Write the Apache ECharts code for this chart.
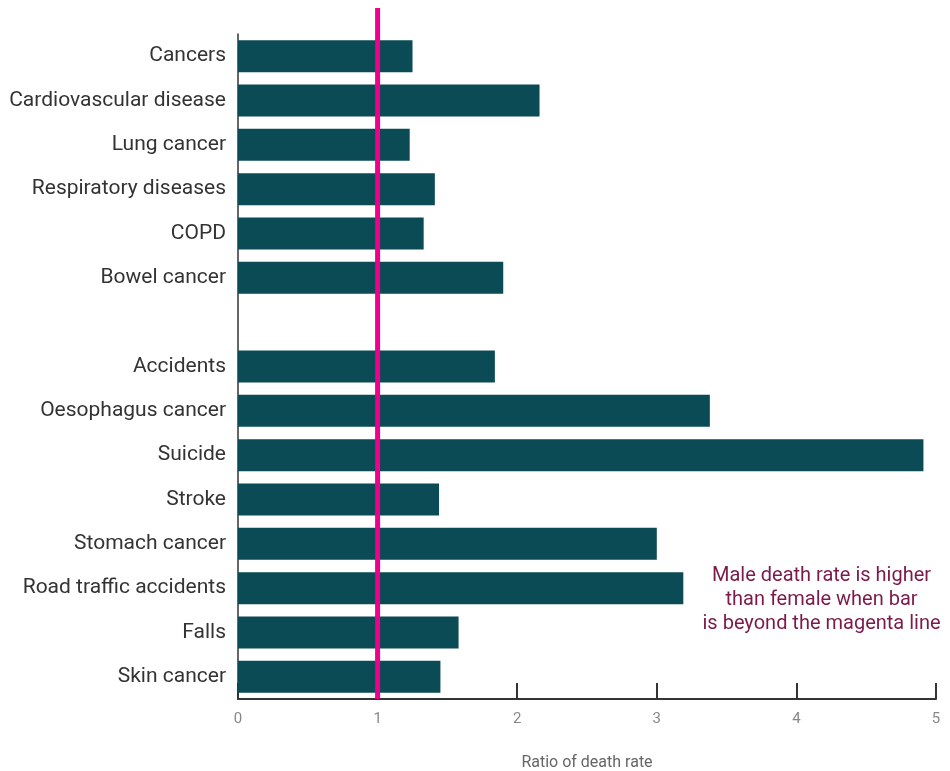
<!DOCTYPE html>
<html><head><meta charset="utf-8">
<script src="https://cdn.jsdelivr.net/npm/echarts@6/dist/echarts.min.js"></script>
<style>html,body{margin:0;padding:0;background:#fff;overflow:hidden}#c{width:950px;height:771px}</style>
</head><body><div id="c"></div>
<script>
const categories = ["Cancers","Cardiovascular disease","Lung cancer","Respiratory diseases","COPD","Bowel cancer","","Accidents","Oesophagus cancer","Suicide","Stroke","Stomach cancer","Road traffic accidents","Falls","Skin cancer"];
const ratios = [1.25,2.16,1.23,1.41,1.33,1.90,null,1.84,3.38,4.91,1.44,3.00,3.19,1.58,1.45];
const xTicks = [0,1,2,3,4,5];
const referenceRatio = 1;
const noteLines = ["Male death rate is higher","than female when bar","is beyond the magenta line"];

const font = "Roboto";
const chart = echarts.init(document.getElementById('c'));
chart.setOption({
  animation:false,
  grid:{left:238,right:14,top:34,bottom:72,containLabel:false,outerBoundsMode:'none'},
  xAxis:{type:'value',min:xTicks[0],max:xTicks[xTicks.length-1],interval:1,
    name:'Ratio of death rate',nameLocation:'middle',nameGap:56,
    nameTextStyle:{color:'#666',fontSize:16,fontFamily:font},
    axisLine:{show:true,lineStyle:{color:'#333',width:2}},
    axisTick:{show:true,inside:true,length:16,lineStyle:{color:'#333',width:2}},
    axisLabel:{color:'#888',fontSize:15,fontFamily:font,margin:13},
    splitLine:{show:false}},
  yAxis:{type:'category',data:categories,inverse:true,
    axisLine:{show:true,lineStyle:{color:'#333',width:1.5}},
    axisTick:{show:false},
    axisLabel:{color:'#333',fontSize:21,fontFamily:font,margin:12}},
  series:[{type:'bar',data:ratios,barWidth:32,itemStyle:{color:'#0A4B55'}}]
});
const x1 = chart.convertToPixel({xAxisIndex:0}, referenceRatio);
const yLast = chart.convertToPixel({yAxisIndex:0}, categories.length-1);
const yPrev = chart.convertToPixel({yAxisIndex:0}, categories.length-2);
const step = yLast - yPrev;
const yBottom = yLast + step/2;
const xNote = chart.convertToPixel({xAxisIndex:0}, 4.18);
const y11 = chart.convertToPixel({yAxisIndex:0}, 11);
const yNote = y11 + 0.45*step;
chart.setOption({graphic:[
  {type:'line',shape:{x1:x1,y1:8,x2:x1,y2:yBottom},style:{stroke:'#EC008C',lineWidth:5},z:100},
  {type:'text',x:xNote,y:yNote,style:{text:noteLines.join('\n'),fill:'#7B1A4B',font:'20px '+font,align:'center',verticalAlign:'top',lineHeight:24},z:100}
]});
</script></body></html>
